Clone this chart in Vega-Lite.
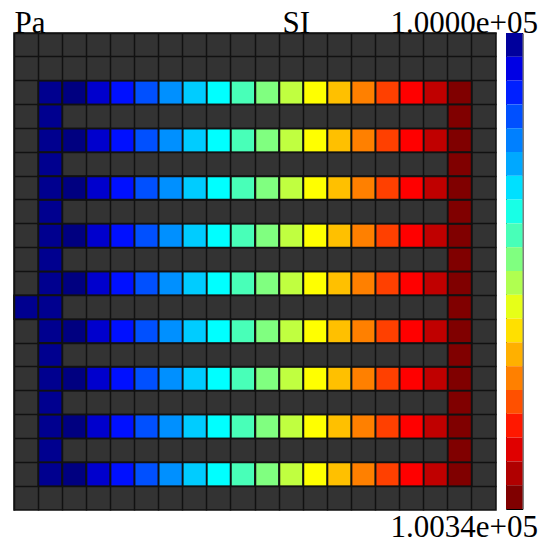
{
  "$schema": "https://vega.github.io/schema/vega-lite/v6.json",
  "background": "white",
  "padding": {"left": 12, "top": 6, "right": 0, "bottom": 0},
  "spacing": 10,
  "bounds": "flush",
  "config": {"view": {"stroke": null}, "font": "Liberation Serif"},
  "hconcat": [
    {
      "width": 482,
      "height": 477,
      "view": {"fill": "#333333", "stroke": "#111111", "strokeWidth": 1.5},
      "data": {"values": [
        {"r":2,"c":1,"p":100000},{"r":2,"c":2,"p":100020},{"r":2,"c":3,"p":100040},{"r":2,"c":4,"p":100060},{"r":2,"c":5,"p":100080},{"r":2,"c":6,"p":100100},{"r":2,"c":7,"p":100120},{"r":2,"c":8,"p":100140},{"r":2,"c":9,"p":100160},{"r":2,"c":10,"p":100180},{"r":2,"c":11,"p":100200},{"r":2,"c":12,"p":100220},{"r":2,"c":13,"p":100240},{"r":2,"c":14,"p":100260},{"r":2,"c":15,"p":100280},{"r":2,"c":16,"p":100300},{"r":2,"c":17,"p":100320},{"r":2,"c":18,"p":100340},
        {"r":4,"c":1,"p":100000},{"r":4,"c":2,"p":100020},{"r":4,"c":3,"p":100040},{"r":4,"c":4,"p":100060},{"r":4,"c":5,"p":100080},{"r":4,"c":6,"p":100100},{"r":4,"c":7,"p":100120},{"r":4,"c":8,"p":100140},{"r":4,"c":9,"p":100160},{"r":4,"c":10,"p":100180},{"r":4,"c":11,"p":100200},{"r":4,"c":12,"p":100220},{"r":4,"c":13,"p":100240},{"r":4,"c":14,"p":100260},{"r":4,"c":15,"p":100280},{"r":4,"c":16,"p":100300},{"r":4,"c":17,"p":100320},{"r":4,"c":18,"p":100340},
        {"r":6,"c":1,"p":100000},{"r":6,"c":2,"p":100020},{"r":6,"c":3,"p":100040},{"r":6,"c":4,"p":100060},{"r":6,"c":5,"p":100080},{"r":6,"c":6,"p":100100},{"r":6,"c":7,"p":100120},{"r":6,"c":8,"p":100140},{"r":6,"c":9,"p":100160},{"r":6,"c":10,"p":100180},{"r":6,"c":11,"p":100200},{"r":6,"c":12,"p":100220},{"r":6,"c":13,"p":100240},{"r":6,"c":14,"p":100260},{"r":6,"c":15,"p":100280},{"r":6,"c":16,"p":100300},{"r":6,"c":17,"p":100320},{"r":6,"c":18,"p":100340},
        {"r":8,"c":1,"p":100000},{"r":8,"c":2,"p":100020},{"r":8,"c":3,"p":100040},{"r":8,"c":4,"p":100060},{"r":8,"c":5,"p":100080},{"r":8,"c":6,"p":100100},{"r":8,"c":7,"p":100120},{"r":8,"c":8,"p":100140},{"r":8,"c":9,"p":100160},{"r":8,"c":10,"p":100180},{"r":8,"c":11,"p":100200},{"r":8,"c":12,"p":100220},{"r":8,"c":13,"p":100240},{"r":8,"c":14,"p":100260},{"r":8,"c":15,"p":100280},{"r":8,"c":16,"p":100300},{"r":8,"c":17,"p":100320},{"r":8,"c":18,"p":100340},
        {"r":10,"c":1,"p":100000},{"r":10,"c":2,"p":100020},{"r":10,"c":3,"p":100040},{"r":10,"c":4,"p":100060},{"r":10,"c":5,"p":100080},{"r":10,"c":6,"p":100100},{"r":10,"c":7,"p":100120},{"r":10,"c":8,"p":100140},{"r":10,"c":9,"p":100160},{"r":10,"c":10,"p":100180},{"r":10,"c":11,"p":100200},{"r":10,"c":12,"p":100220},{"r":10,"c":13,"p":100240},{"r":10,"c":14,"p":100260},{"r":10,"c":15,"p":100280},{"r":10,"c":16,"p":100300},{"r":10,"c":17,"p":100320},{"r":10,"c":18,"p":100340},
        {"r":12,"c":1,"p":100000},{"r":12,"c":2,"p":100020},{"r":12,"c":3,"p":100040},{"r":12,"c":4,"p":100060},{"r":12,"c":5,"p":100080},{"r":12,"c":6,"p":100100},{"r":12,"c":7,"p":100120},{"r":12,"c":8,"p":100140},{"r":12,"c":9,"p":100160},{"r":12,"c":10,"p":100180},{"r":12,"c":11,"p":100200},{"r":12,"c":12,"p":100220},{"r":12,"c":13,"p":100240},{"r":12,"c":14,"p":100260},{"r":12,"c":15,"p":100280},{"r":12,"c":16,"p":100300},{"r":12,"c":17,"p":100320},{"r":12,"c":18,"p":100340},
        {"r":14,"c":1,"p":100000},{"r":14,"c":2,"p":100020},{"r":14,"c":3,"p":100040},{"r":14,"c":4,"p":100060},{"r":14,"c":5,"p":100080},{"r":14,"c":6,"p":100100},{"r":14,"c":7,"p":100120},{"r":14,"c":8,"p":100140},{"r":14,"c":9,"p":100160},{"r":14,"c":10,"p":100180},{"r":14,"c":11,"p":100200},{"r":14,"c":12,"p":100220},{"r":14,"c":13,"p":100240},{"r":14,"c":14,"p":100260},{"r":14,"c":15,"p":100280},{"r":14,"c":16,"p":100300},{"r":14,"c":17,"p":100320},{"r":14,"c":18,"p":100340},
        {"r":16,"c":1,"p":100000},{"r":16,"c":2,"p":100020},{"r":16,"c":3,"p":100040},{"r":16,"c":4,"p":100060},{"r":16,"c":5,"p":100080},{"r":16,"c":6,"p":100100},{"r":16,"c":7,"p":100120},{"r":16,"c":8,"p":100140},{"r":16,"c":9,"p":100160},{"r":16,"c":10,"p":100180},{"r":16,"c":11,"p":100200},{"r":16,"c":12,"p":100220},{"r":16,"c":13,"p":100240},{"r":16,"c":14,"p":100260},{"r":16,"c":15,"p":100280},{"r":16,"c":16,"p":100300},{"r":16,"c":17,"p":100320},{"r":16,"c":18,"p":100340},
        {"r":18,"c":1,"p":100000},{"r":18,"c":2,"p":100020},{"r":18,"c":3,"p":100040},{"r":18,"c":4,"p":100060},{"r":18,"c":5,"p":100080},{"r":18,"c":6,"p":100100},{"r":18,"c":7,"p":100120},{"r":18,"c":8,"p":100140},{"r":18,"c":9,"p":100160},{"r":18,"c":10,"p":100180},{"r":18,"c":11,"p":100200},{"r":18,"c":12,"p":100220},{"r":18,"c":13,"p":100240},{"r":18,"c":14,"p":100260},{"r":18,"c":15,"p":100280},{"r":18,"c":16,"p":100300},{"r":18,"c":17,"p":100320},{"r":18,"c":18,"p":100340},
        {"r":3,"c":1,"p":100000},{"r":3,"c":18,"p":100340},
        {"r":5,"c":1,"p":100000},{"r":5,"c":18,"p":100340},
        {"r":7,"c":1,"p":100000},{"r":7,"c":18,"p":100340},
        {"r":9,"c":1,"p":100000},{"r":9,"c":18,"p":100340},
        {"r":11,"c":1,"p":100000},{"r":11,"c":18,"p":100340},
        {"r":13,"c":1,"p":100000},{"r":13,"c":18,"p":100340},
        {"r":15,"c":1,"p":100000},{"r":15,"c":18,"p":100340},
        {"r":17,"c":1,"p":100000},{"r":17,"c":18,"p":100340},
        {"r":11,"c":0,"p":100000}
      ]},
      "mark": {"type": "rect", "stroke": "#111111", "strokeWidth": 1.5},
      "encoding": {
        "x": {
          "field": "c", "type": "ordinal",
          "scale": {"domain": [0,1,2,3,4,5,6,7,8,9,10,11,12,13,14,15,16,17,18,19], "paddingInner": 0, "paddingOuter": 0},
          "axis": {"orient": "top", "labels": false, "ticks": false, "domain": false, "grid": true, "gridColor": "#111111", "gridWidth": 1.5, "gridOpacity": 1, "bandPosition": 0,
                   "title": "SI", "titleX": 268, "titleY": -1, "titleAlign": "left", "titleBaseline": "alphabetic", "titleAngle": 0,
                   "titleFont": "Liberation Serif", "titleFontSize": 31, "titleFontWeight": "normal", "titleColor": "#000000"}
        },
        "y": {
          "field": "r", "type": "ordinal",
          "scale": {"domain": [0,1,2,3,4,5,6,7,8,9,10,11,12,13,14,15,16,17,18,19], "paddingInner": 0, "paddingOuter": 0},
          "axis": {"orient": "left", "labels": false, "ticks": false, "domain": false, "grid": true, "gridColor": "#111111", "gridWidth": 1.5, "gridOpacity": 1, "bandPosition": 0,
                   "title": "Pa", "titleX": 0, "titleY": -1, "titleAlign": "left", "titleBaseline": "alphabetic", "titleAngle": 0,
                   "titleFont": "Liberation Serif", "titleFontSize": 31, "titleFontWeight": "normal", "titleColor": "#000000"}
        },
        "color": {
          "field": "p", "type": "quantitative",
          "scale": {"type": "quantize", "domain": [100000, 100340],
                    "range": ["#00008f","#000080","#0000cd","#0010ff","#0050ff","#0090ff","#00ccff","#00ffff","#48ffb8","#80ff80","#c0ff40","#ffff00","#ffc000","#ff8000","#ff4000","#ff0000","#c00000","#800000"]},
          "legend": null
        }
      }
    },
    {
      "width": 16.5,
      "height": 476,
      "view": {"stroke": "#000000", "strokeWidth": 1},
      "data": {"values": [
        {"p":100008.5},{"p":100025.5},{"p":100042.5},{"p":100059.5},{"p":100076.5},
        {"p":100093.5},{"p":100110.5},{"p":100127.5},{"p":100144.5},{"p":100161.5},
        {"p":100178.5},{"p":100195.5},{"p":100212.5},{"p":100229.5},{"p":100246.5},
        {"p":100263.5},{"p":100280.5},{"p":100297.5},{"p":100314.5},{"p":100331.5}
      ]},
      "mark": {"type": "rect"},
      "encoding": {
        "x": {
          "datum": "bar", "type": "nominal",
          "scale": {"paddingInner": 0, "paddingOuter": 0},
          "axis": {"orient": "top", "labels": false, "ticks": false, "domain": false, "grid": false,
                   "title": "1.0000e+05", "titleX": 31.5, "titleY": -1, "titleAlign": "right", "titleBaseline": "alphabetic", "titleAngle": 0,
                   "titleFont": "Liberation Serif", "titleFontSize": 31, "titleFontWeight": "normal", "titleColor": "#000000"}
        },
        "y": {
          "field": "p", "type": "ordinal", "sort": "ascending",
          "scale": {"paddingInner": 0, "paddingOuter": 0},
          "axis": {"orient": "right", "labels": false, "ticks": false, "domain": false, "grid": false,
                   "title": "1.0034e+05", "titleX": 15, "titleY": 503, "titleAlign": "right", "titleBaseline": "alphabetic", "titleAngle": 0,
                   "titleFont": "Liberation Serif", "titleFontSize": 31, "titleFontWeight": "normal", "titleColor": "#000000"}
        },
        "color": {
          "field": "p", "type": "quantitative",
          "scale": {"type": "quantize", "domain": [100000, 100340],
                    "range": ["#00009c","#0000e4","#0020ff","#0050ff","#0080ff","#00a8ff","#00e0ff","#18ffe6","#48ffb8","#80ff80","#b0ff50","#e6ff18","#ffe000","#ffb000","#ff8000","#ff5000","#ff1800","#e00000","#b00000","#800000"]},
          "legend": null
        }
      }
    }
  ],
  "resolve": {"scale": {"color": "independent"}}
}
